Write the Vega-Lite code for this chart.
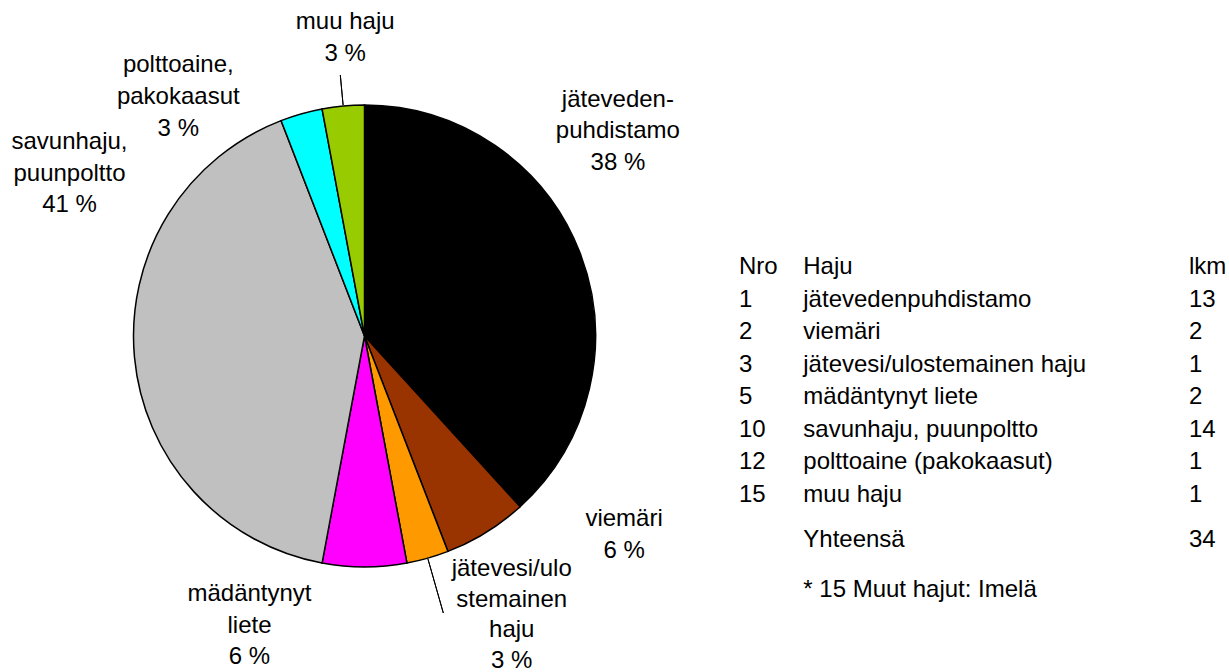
{
  "$schema": "https://vega.github.io/schema/vega-lite/v6.json",
  "padding": 0,
  "spacing": 0,
  "background": "white",
  "config": {
    "font": "Liberation Sans",
    "view": {"stroke": null},
    "text": {"font": "Liberation Sans", "fontSize": 24, "color": "black"}
  },
  "datasets": {
    "odours": [
      {"nro": 1, "haju": "jätevedenpuhdistamo", "lkm": 13, "label": "jäteveden-\npuhdistamo\n38 %"},
      {"nro": 2, "haju": "viemäri", "lkm": 2, "label": "viemäri\n6 %"},
      {"nro": 3, "haju": "jätevesi/ulostemainen haju", "lkm": 1, "label": "jätevesi/ulo\nstemainen\nhaju\n3 %"},
      {"nro": 5, "haju": "mädäntynyt liete", "lkm": 2, "label": "mädäntynyt\nliete\n6 %"},
      {"nro": 10, "haju": "savunhaju, puunpoltto", "lkm": 14, "label": "savunhaju,\npuunpoltto\n41 %"},
      {"nro": 12, "haju": "polttoaine (pakokaasut)", "lkm": 1, "label": "polttoaine,\npakokaasut\n3 %"},
      {"nro": 15, "haju": "muu haju", "lkm": 1, "label": "muu haju\n3 %"}
    ],
    "table": [
      {"r": "h", "c": "Nro", "t": "Nro"}, {"r": "h", "c": "Haju", "t": "Haju"}, {"r": "h", "c": "lkm", "t": "lkm"},
      {"r": "1", "c": "Nro", "t": "1"}, {"r": "1", "c": "Haju", "t": "jätevedenpuhdistamo"}, {"r": "1", "c": "lkm", "t": "13"},
      {"r": "2", "c": "Nro", "t": "2"}, {"r": "2", "c": "Haju", "t": "viemäri"}, {"r": "2", "c": "lkm", "t": "2"},
      {"r": "3", "c": "Nro", "t": "3"}, {"r": "3", "c": "Haju", "t": "jätevesi/ulostemainen haju"}, {"r": "3", "c": "lkm", "t": "1"},
      {"r": "5", "c": "Nro", "t": "5"}, {"r": "5", "c": "Haju", "t": "mädäntynyt liete"}, {"r": "5", "c": "lkm", "t": "2"},
      {"r": "10", "c": "Nro", "t": "10"}, {"r": "10", "c": "Haju", "t": "savunhaju, puunpoltto"}, {"r": "10", "c": "lkm", "t": "14"},
      {"r": "12", "c": "Nro", "t": "12"}, {"r": "12", "c": "Haju", "t": "polttoaine (pakokaasut)"}, {"r": "12", "c": "lkm", "t": "1"},
      {"r": "15", "c": "Nro", "t": "15"}, {"r": "15", "c": "Haju", "t": "muu haju"}, {"r": "15", "c": "lkm", "t": "1"},
      {"r": "tot", "c": "Haju", "t": "Yhteensä"}, {"r": "tot", "c": "lkm", "t": "34"},
      {"r": "note", "c": "Haju", "t": "* 15 Muut hajut: Imelä"}
    ]
  },
  "hconcat": [
    {
      "width": 729,
      "height": 672,
      "data": {"name": "odours"},
      "encoding": {
        "theta": {"field": "lkm", "type": "quantitative", "stack": true},
        "order": {"field": "nro", "type": "quantitative"}
      },
      "layer": [
        {
          "mark": {"type": "arc", "outerRadius": 231, "stroke": "black", "strokeWidth": 1.5},
          "encoding": {
            "color": {
              "field": "haju", "type": "nominal", "legend": null,
              "scale": {
                "domain": ["jätevedenpuhdistamo", "viemäri", "jätevesi/ulostemainen haju", "mädäntynyt liete", "savunhaju, puunpoltto", "polttoaine (pakokaasut)", "muu haju"],
                "range": ["#000000", "#993300", "#FF9900", "#FF00FF", "#C0C0C0", "#00FFFF", "#99CC00"]
              }
            }
          }
        },
        {
          "mark": {"type": "arc", "radius": 288, "radius2": 232, "padAngle": 3.1416, "fill": "transparent", "stroke": "black", "strokeWidth": 1},
          "encoding": {"detail": {"field": "haju"}, "strokeOpacity": {"condition": {"test": "datum.nro === 3", "value": 1}, "value": 0}}
        },
        {
          "mark": {"type": "arc", "radius": 262, "radius2": 232, "padAngle": 3.1416, "fill": "transparent", "stroke": "black", "strokeWidth": 1},
          "encoding": {"detail": {"field": "haju"}, "strokeOpacity": {"condition": {"test": "datum.nro === 15", "value": 1}, "value": 0}}
        },
        {
          "mark": {"type": "text", "clip": true, "radius": 231, "dx": 38, "dy": -165, "align": "center", "baseline": "top", "lineBreak": "\n", "lineHeight": 31.5},
          "encoding": {"detail": {"field": "haju"}, "text": {"condition": {"test": "datum.nro === 1", "field": "label"}, "value": ""}}
        },
        {
          "mark": {"type": "text", "clip": true, "radius": 231, "dx": 138, "dy": -25, "align": "center", "baseline": "top", "lineBreak": "\n", "lineHeight": 31.5},
          "encoding": {"detail": {"field": "haju"}, "text": {"condition": {"test": "datum.nro === 2", "field": "label"}, "value": ""}}
        },
        {
          "mark": {"type": "text", "clip": true, "radius": 231, "dx": 84, "dy": -1, "align": "center", "baseline": "top", "lineBreak": "\n", "lineHeight": 30.5},
          "encoding": {"detail": {"field": "haju"}, "text": {"condition": {"test": "datum.nro === 3", "field": "label"}, "value": ""}}
        },
        {
          "mark": {"type": "text", "clip": true, "radius": 231, "dx": -115, "dy": 15, "align": "center", "baseline": "top", "lineBreak": "\n", "lineHeight": 31.5},
          "encoding": {"detail": {"field": "haju"}, "text": {"condition": {"test": "datum.nro === 5", "field": "label"}, "value": ""}}
        },
        {
          "mark": {"type": "text", "clip": true, "radius": 231, "dx": -65, "dy": -227, "align": "center", "baseline": "top", "lineBreak": "\n", "lineHeight": 31.5},
          "encoding": {"detail": {"field": "haju"}, "text": {"condition": {"test": "datum.nro === 10", "field": "label"}, "value": ""}}
        },
        {
          "mark": {"type": "text", "clip": true, "radius": 231, "dx": -123, "dy": -61, "align": "center", "baseline": "top", "lineBreak": "\n", "lineHeight": 32},
          "encoding": {"detail": {"field": "haju"}, "text": {"condition": {"test": "datum.nro === 12", "field": "label"}, "value": ""}}
        },
        {
          "mark": {"type": "text", "clip": true, "radius": 231, "dx": 2, "dy": -96, "align": "center", "baseline": "top", "lineBreak": "\n", "lineHeight": 32},
          "encoding": {"detail": {"field": "haju"}, "text": {"condition": {"test": "datum.nro === 15", "field": "label"}, "value": ""}}
        }
      ]
    },
    {
      "width": 500,
      "height": 672,
      "data": {"name": "table"},
      "encoding": {
        "x": {
          "field": "c", "type": "nominal", "axis": null,
          "scale": {"type": "point", "padding": 0, "domain": ["Nro", "Haju", "_1", "_2", "_3", "_4", "_5", "lkm"], "range": [10, 460]}
        },
        "text": {"field": "t"}
      },
      "layer": [
        {
          "transform": [{"filter": {"not": {"field": "r", "oneOf": ["tot", "note"]}}}],
          "mark": {"type": "text", "align": "left", "baseline": "middle"},
          "encoding": {
            "y": {"field": "r", "type": "ordinal", "axis": null,
                  "scale": {"type": "point", "padding": 0, "domain": ["h", "1", "2", "3", "5", "10", "12", "15"], "range": [267, 495]}}
          }
        },
        {
          "transform": [{"filter": {"field": "r", "oneOf": ["tot", "note"]}}],
          "mark": {"type": "text", "align": "left", "baseline": "middle"},
          "encoding": {
            "y": {"field": "r", "type": "ordinal", "axis": null,
                  "scale": {"type": "point", "padding": 0, "domain": ["tot", "note"], "range": [540, 590]}}
          }
        }
      ],
      "resolve": {"scale": {"y": "independent"}}
    }
  ]
}
